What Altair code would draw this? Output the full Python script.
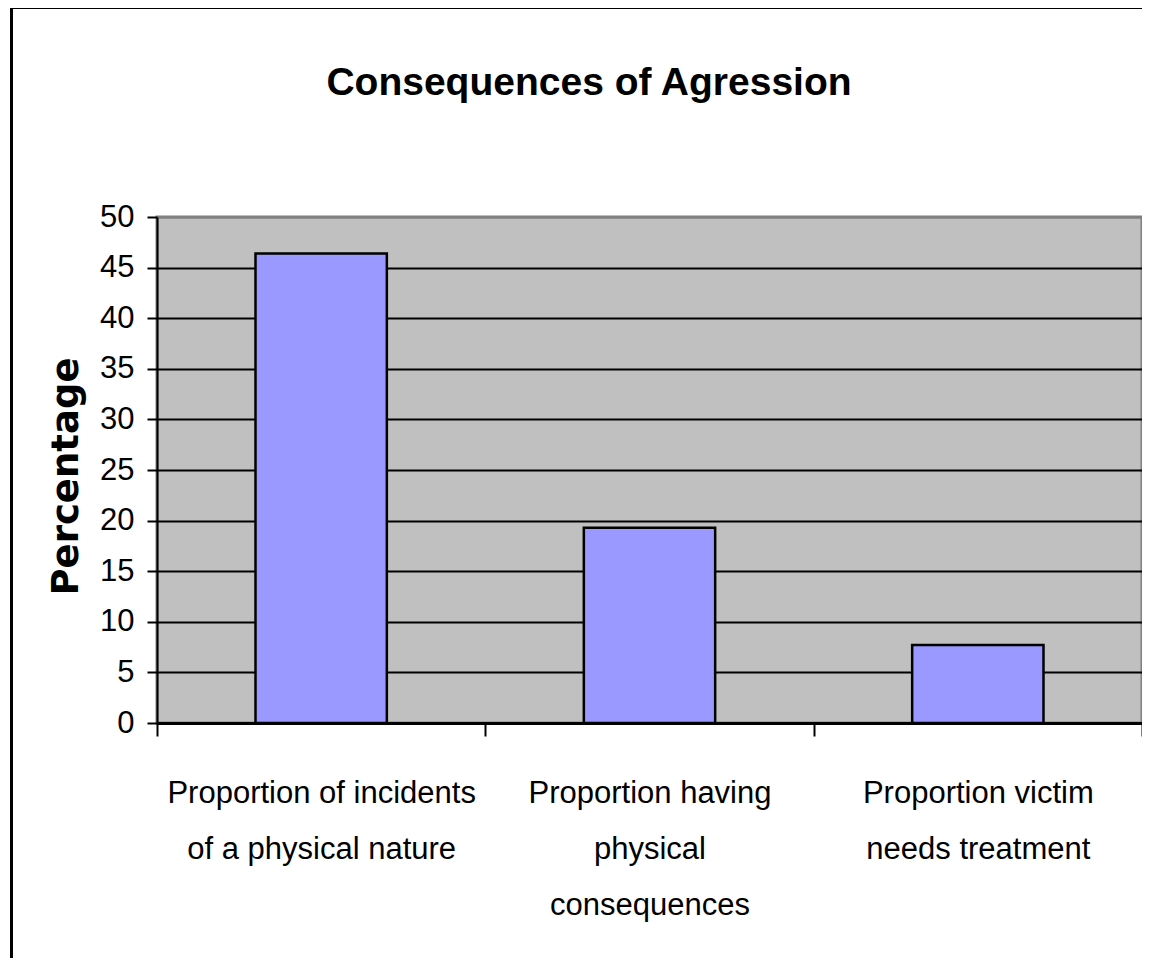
import altair as alt
import pandas as pd

# ---- data ----
category_lines = [
    ["Proportion of incidents", "of a physical nature"],
    ["Proportion having", "physical", "consequences"],
    ["Proportion victim", "needs treatment"],
]
categories = [" ".join(lines) for lines in category_lines]
values = [46.4, 19.3, 7.7]
y_ticks = list(range(0, 51, 5))
chart_title = "Consequences of Agression"
y_title = "Percentage"

df = pd.DataFrame({"category": categories, "value": values})

# label expression that splits each category into its lines
expr = "datum.label"
for cat, lines in reversed(list(zip(categories, category_lines))):
    arr = "[" + ",".join("'" + l + "'" for l in lines) + "]"
    expr = f"datum.label == '{cat}' ? {arr} : ({expr})"

LABEL_FONT = "Liberation Sans, Arial, sans-serif"

PLOT_W, PLOT_H = 985, 506
PAD_L, PAD_T = 149, 209

bars = alt.Chart(df).mark_bar(
    color="#9999FF", stroke="black", strokeWidth=2.5,
    width=alt.RelativeBandSize(0.4),
).encode(
    x=alt.X(
        "category:N",
        sort=categories,
        scale=alt.Scale(paddingInner=0, paddingOuter=0),
        axis=alt.Axis(
            title=None,
            labelAngle=0,
            labelExpr=expr,
            tickBand="extent",
            tickSize=13,
            tickWidth=2,
            tickColor="black",
            domainColor="black",
            domainWidth=3,
            labelFont=LABEL_FONT,
            labelFontSize=31,
            labelColor="black",
            labelLineHeight=56,
            labelPadding=42,
            labelLimit=0,
            grid=False,
        ),
    ),
    y=alt.Y(
        "value:Q",
        scale=alt.Scale(domain=[0, 50], nice=False),
        axis=alt.Axis(
            values=y_ticks,
            title=y_title,
            titleFont="DejaVu Sans",
            titleFontWeight="bold",
            titleFontSize=37,
            titleColor="black",
            titleAngle=270,
            titleX=-80,
            titleY=259,
            titleBaseline="alphabetic",
            titleAlign="center",
            grid=True,
            gridColor={"condition": {"test": "datum.value >= 50", "value": "#808080"}, "value": "black"},
            gridWidth=2,
            tickSize=10,
            tickWidth=2,
            tickColor="black",
            domainColor="black",
            domainWidth=2,
            labelFont=LABEL_FONT,
            labelFontSize=31,
            labelColor="black",
            labelPadding=13,
        ),
    ),
)

title_text = alt.Chart(pd.DataFrame({"t": [chart_title]})).mark_text(
    font="Liberation Sans",
    fontWeight="bold",
    fontSize=39,
    color="black",
    align="center",
    baseline="alphabetic",
).encode(
    text="t:N",
    x=alt.value(432),
    y=alt.value(-122),
)

frame = alt.Chart(pd.DataFrame({"f": [0]})).mark_rect(
    filled=False, stroke="black", strokeWidth=3
).encode(
    x=alt.value(-145.5),
    x2=alt.value(1200),
    y=alt.value(-209.5),
    y2=alt.value(900),
)

chart = alt.layer(bars, title_text, frame).properties(
    width=PLOT_W,
    height=PLOT_H,
    padding={"left": PAD_L, "top": PAD_T, "right": 0, "bottom": 235},
    autosize=alt.AutoSizeParams(type="none"),
    background="white",
).configure_view(
    fill="#C0C0C0", stroke="#808080", strokeWidth=3
)

chart.save("out.html", embed_options={"renderer": "svg", "actions": False})
